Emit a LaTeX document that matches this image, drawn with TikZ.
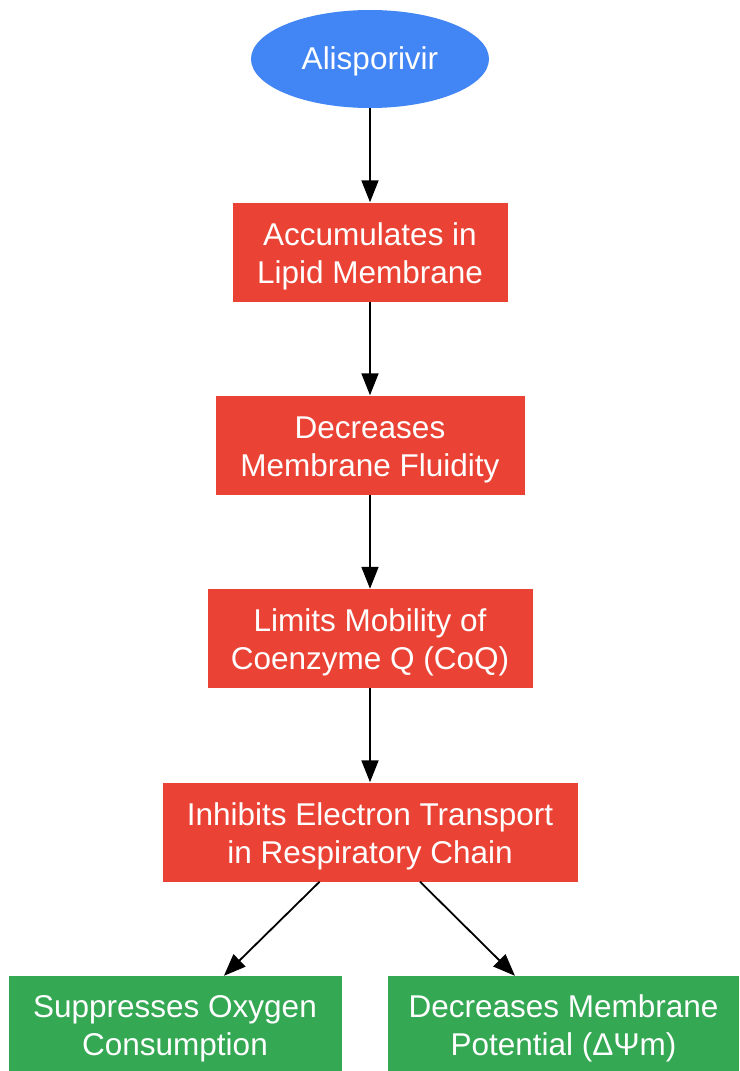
\documentclass[tikz,border=0pt]{standalone}
\usepackage{fontspec}
\setmainfont{Liberation Sans}
\usetikzlibrary{arrows.meta,shapes.geometric}
\definecolor{gblue}{HTML}{4285F4}
\definecolor{gred}{HTML}{EA4335}
\definecolor{ggreen}{HTML}{34A853}
\begin{document}
\begin{tikzpicture}[x=1pt,y=-1pt,
  lbl/.style={text=white,font=\fontsize{31.5}{38}\selectfont,align=center,inner sep=0pt},
  redbox/.style={lbl,rectangle,fill=gred,minimum height=99pt,text height=69pt,text depth=6.6pt},
  greenbox/.style={lbl,rectangle,fill=ggreen,minimum height=96pt,text height=69pt,text depth=6.6pt},
  conn/.style={draw=black,line width=1.8pt,-{Triangle[length=22pt,width=17pt]}}]
\useasboundingbox (0,0) rectangle (739,1071);
\node[lbl,ellipse,fill=gblue,minimum width=238pt,minimum height=98pt,text height=27pt,text depth=6pt] (a) at (370,59) {Alisporivir};
\node[redbox,minimum width=275pt] (b) at (370,252) {Accumulates in\\Lipid Membrane};
\node[redbox,minimum width=309pt] (c) at (370,445) {Decreases\\Membrane Fluidity};
\node[redbox,minimum width=325pt] (d) at (370,638.5) {Limits Mobility of\\Coenzyme Q (CoQ)};
\node[redbox,minimum width=415pt] (e) at (370,832) {Inhibits Electron Transport\\in Respiratory Chain};
\node[greenbox,minimum width=333pt] (f) at (175,1024) {Suppresses Oxygen\\Consumption};
\node[greenbox,minimum width=351pt] (g) at (563.5,1024) {Decreases Membrane\\Potential (ΔΨm)};
\draw[conn] (a) -- (b);
\draw[conn] (b) -- (c);
\draw[conn] (c) -- (d);
\draw[conn] (d) -- (e);
\draw[conn] (e) -- (f);
\draw[conn] (e) -- (g);
\end{tikzpicture}
\end{document}
